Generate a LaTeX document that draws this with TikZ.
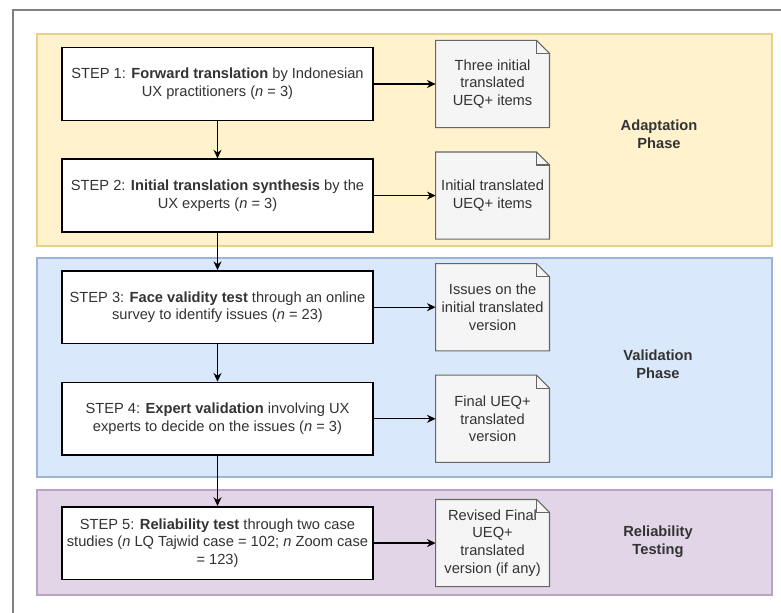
\documentclass[tikz,border=0pt]{standalone}
\usepackage{fontspec}
\setmainfont{Liberation Sans}
\usetikzlibrary{positioning,arrows.meta,backgrounds}
\definecolor{adaptfill}{HTML}{FFF2CC}
\definecolor{adaptline}{HTML}{E6D28A}
\definecolor{validfill}{HTML}{DAE8FC}
\definecolor{validline}{HTML}{9DB4D6}
\definecolor{relfill}{HTML}{E1D5E7}
\definecolor{relline}{HTML}{B9A5C3}
\definecolor{notefill}{HTML}{F5F5F5}
\definecolor{noteline}{HTML}{666666}
\definecolor{inktext}{HTML}{333333}
\tikzstyle{every node}=[font=\fontsize{11}{13.4}\selectfont,text=inktext,align=center,inner sep=0pt]
\tikzstyle{stepbox}=[draw=black,line width=1.2pt,fill=white,minimum width=233pt,minimum height=54.5pt]
\tikzstyle{notebox}=[minimum width=85pt,minimum height=65pt]
\tikzstyle{noteline}=[draw=noteline,fill=notefill,line width=0.8pt]
\tikzstyle{phaselabel}=[font=\fontsize{11}{13.5}\selectfont\bfseries]
\tikzstyle{flow}=[-{Stealth[length=6.5pt,width=6pt]},line width=0.9pt]

\begin{document}
\begin{tikzpicture}[x=0.75pt,y=-0.75pt,node distance=28pt and 46.5pt]
\useasboundingbox (0,0) rectangle (781,613);
% frame round the whole figure
\draw[gray,line width=0.9pt] (13,613) -- (13,10) -- (781,10);

% steps
\node[stepbox] (s1) at (217.5,84)
  {STEP 1: \textbf{Forward translation} by Indonesian\\UX practitioners (\textit{n} = 3)};
\node[stepbox,below=of s1] (s2)
  {STEP 2: \textbf{Initial translation synthesis} by the\\UX experts (\textit{n} = 3)};
\node[stepbox,below=of s2] (s3)
  {STEP 3: \textbf{Face validity test} through an online\\survey to identify issues (\textit{n} = 23)};
\node[stepbox,below=of s3] (s4)
  {STEP 4: \textbf{Expert validation} involving UX\\experts to decide on the issues (\textit{n} = 3)};
\node[stepbox,below=37.5pt of s4] (s5)
  {STEP 5: \textbf{Reliability test} through two case\\studies (\textit{n} LQ Tajwid case = 102; \textit{n} Zoom case\\= 123)};

% outputs
\node[notebox,right=of s1] (d1) {Three initial\\translated\\UEQ+ items};
\node[notebox,right=of s2] (d2) {Initial translated\\UEQ+ items};
\node[notebox,right=of s3] (d3) {Issues on the\\initial translated\\version};
\node[notebox,right=of s4] (d4) {Final UEQ+\\translated\\version};
\node[notebox,right=of s5] (d5) {Revised Final\\UEQ+\\translated\\version (if any)};

% phase names
\node[phaselabel] (p1) at (659,134) {Adaptation\\Phase};
\node[phaselabel] (p2) at (658,364) {Validation\\Phase};
\node[phaselabel] (p3) at (658,542) {Reliability\\Testing};

% arrows
\draw[flow] (s1) -- (s2);
\draw[flow] (s2) -- (s3);
\draw[flow] (s3) -- (s4);
\draw[flow] (s4) -- (s5);
\foreach \i in {1,...,5}
  \draw[flow] (s\i) -- (d\i);

\begin{scope}[on background layer]
  \draw[draw=adaptline,fill=adaptfill,line width=0.8pt] (37,34) rectangle (772,246);
  \draw[draw=validline,fill=validfill,line width=0.8pt] (37,258) rectangle (772,477);
  \draw[draw=relline,fill=relfill,line width=0.8pt] (37,490) rectangle (772,595);
  \foreach \n in {d1,d2,d3,d4,d5}{
    \draw[noteline] (\n.south west) -- (\n.north west) -- ([xshift=-9.75pt]\n.north east)
      -- ([yshift=-9.75pt]\n.north east) -- (\n.south east) -- cycle;
    \draw[draw=noteline,line width=0.8pt] ([xshift=-9.75pt]\n.north east) |- ([yshift=-9.75pt]\n.north east);
  }
\end{scope}
\end{tikzpicture}
\end{document}
